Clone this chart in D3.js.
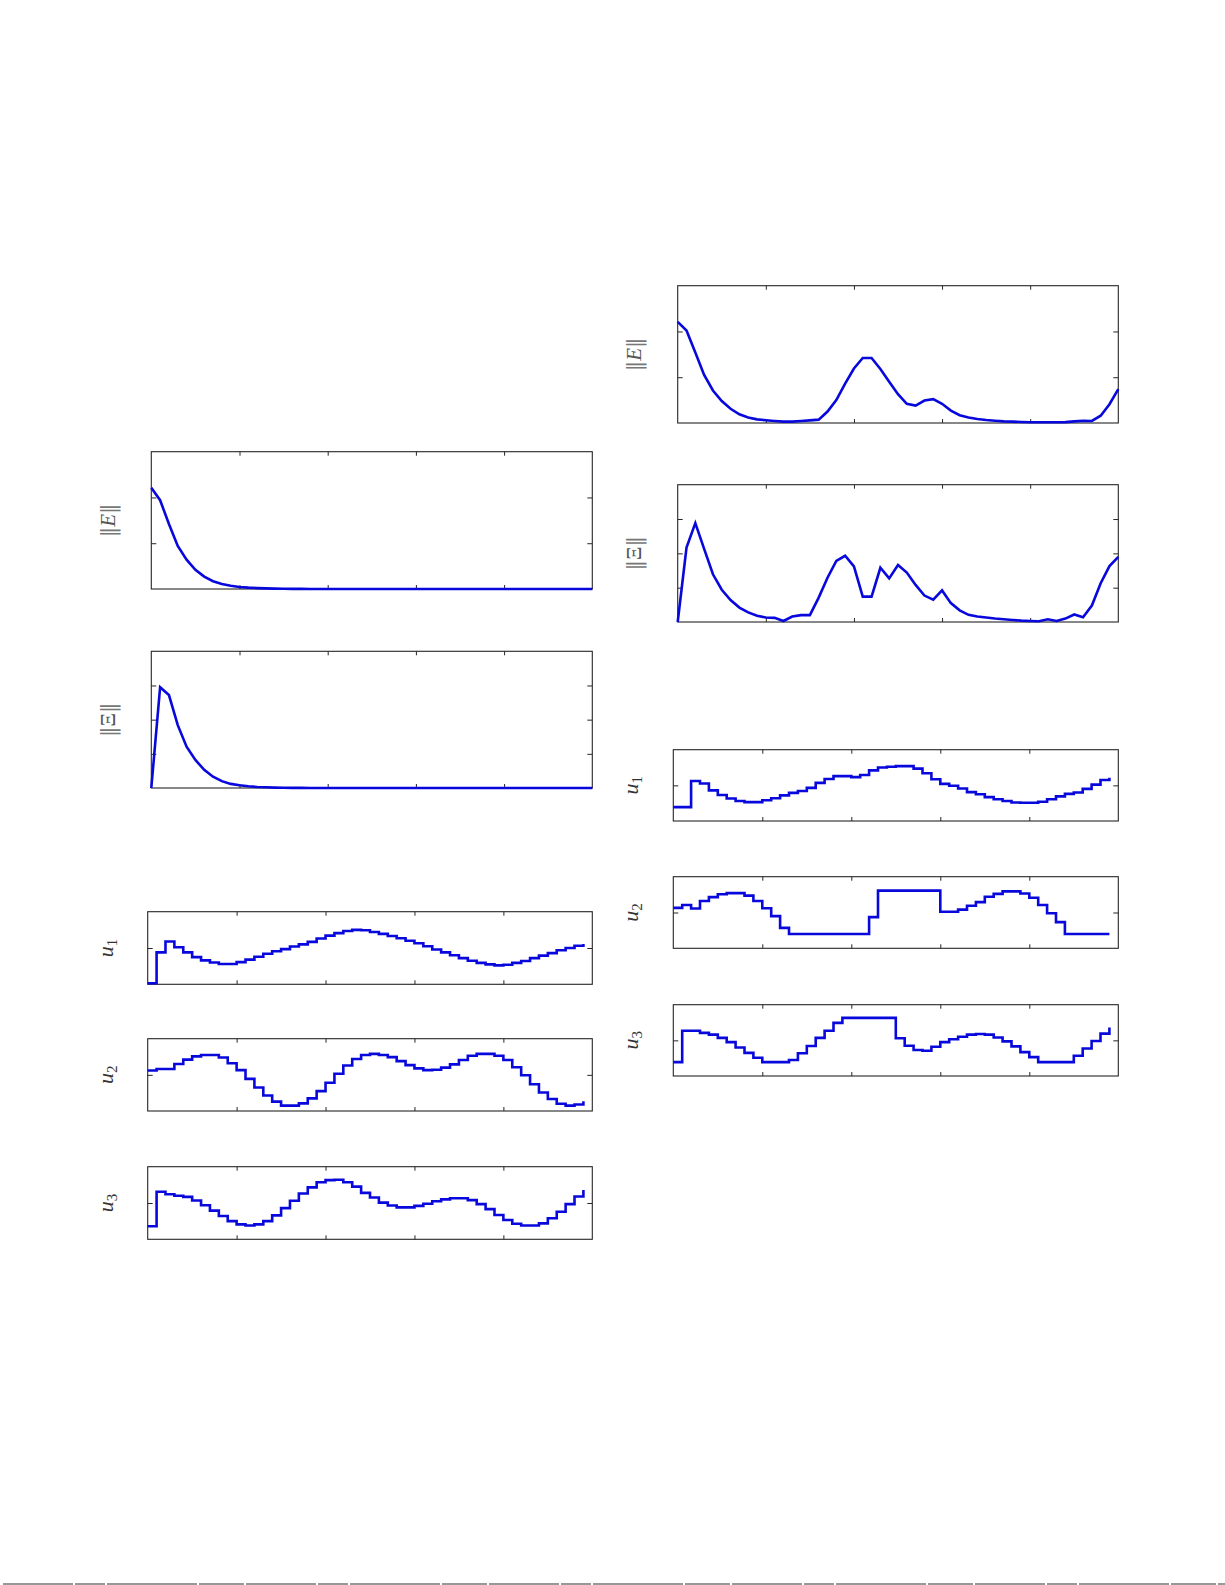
<!DOCTYPE html>
<html><head><meta charset="utf-8">
<script src="https://cdn.jsdelivr.net/npm/d3@7"></script>
<style>html,body{margin:0;padding:0;background:#fff;}svg{display:block;}</style>
</head><body>
<script>
// ---- data ----
const xTicks = [10, 20, 30, 40];
const eTicks = [1, 2];
const xiTicks = [1, 2, 3];
const uTicks = [0];

const leftE = [2.21,1.94,1.42,0.94,0.64,0.42,0.27,0.17,0.11,0.07,
  0.045,0.03,0.02,0.013,0.008,0.005,0.003,0.002,0.001,0,
  0,0,0,0,0,0,0,0,0,0, 0,0,0,0,0,0,0,0,0,0, 0,0,0,0,0,0,0,0,0,0, 0];
const leftXi = [0,2.95,2.72,1.84,1.21,0.82,0.53,0.33,0.20,0.12,
  0.08,0.05,0.03,0.02,0.012,0.008,0.005,0.003,0.002,0.001,
  0,0,0,0,0,0,0,0,0,0, 0,0,0,0,0,0,0,0,0,0, 0,0,0,0,0,0,0,0,0,0, 0];
const leftU1 = [-0.97,-0.12,0.18,0.02,-0.12,-0.25,-0.34,-0.40,-0.44,-0.44,
  -0.39,-0.32,-0.24,-0.16,-0.09,-0.03,0.04,0.10,0.17,0.26,
  0.34,0.41,0.47,0.50,0.49,0.44,0.39,0.33,0.27,0.20,
  0.13,0.05,-0.04,-0.12,-0.20,-0.28,-0.35,-0.41,-0.45,-0.48,
  -0.46,-0.41,-0.36,-0.28,-0.21,-0.14,-0.06,0.00,0.06,0.11];
const leftU2 = [0.12,0.16,0.16,0.30,0.42,0.51,0.55,0.55,0.48,0.32,
  0.13,-0.11,-0.35,-0.57,-0.74,-0.85,-0.85,-0.79,-0.65,-0.45,
  -0.22,0.03,0.26,0.44,0.55,0.58,0.55,0.49,0.38,0.27,
  0.18,0.13,0.14,0.20,0.29,0.41,0.53,0.58,0.58,0.53,
  0.41,0.21,-0.01,-0.26,-0.49,-0.67,-0.80,-0.85,-0.82,-0.73];
const leftU3 = [-0.64,0.31,0.24,0.20,0.17,0.07,-0.06,-0.21,-0.36,-0.50,
  -0.59,-0.62,-0.59,-0.50,-0.34,-0.14,0.06,0.26,0.43,0.57,
  0.63,0.64,0.57,0.45,0.28,0.15,0.01,-0.07,-0.12,-0.12,
  -0.08,-0.02,0.05,0.10,0.13,0.13,0.08,-0.03,-0.17,-0.33,
  -0.47,-0.57,-0.62,-0.62,-0.56,-0.42,-0.24,-0.03,0.18,0.36];

const rightE = [2.21,2.02,1.54,1.05,0.71,0.48,0.31,0.19,0.12,0.08,
  0.06,0.044,0.03,0.03,0.044,0.058,0.073,0.25,0.50,0.86,
  1.19,1.42,1.42,1.18,0.90,0.63,0.42,0.38,0.49,0.52,
  0.42,0.27,0.17,0.12,0.087,0.066,0.05,0.036,0.03,0.022,
  0.015,0.015,0.015,0.015,0.02,0.036,0.05,0.044,0.16,0.41,
  0.74];
const rightXi = [0,2.17,2.88,2.13,1.39,0.94,0.64,0.42,0.28,0.18,
  0.13,0.12,0.03,0.16,0.20,0.20,0.71,1.29,1.78,1.93,
  1.62,0.74,0.74,1.58,1.27,1.66,1.44,1.08,0.77,0.65,
  0.92,0.55,0.34,0.21,0.16,0.13,0.10,0.08,0.06,0.04,
  0.03,0.02,0.08,0.03,0.10,0.22,0.14,0.48,1.13,1.63,
  1.90];
const rightU1 = [-0.61,-0.61,0.12,0.05,-0.14,-0.27,-0.37,-0.44,-0.47,-0.47,
  -0.42,-0.36,-0.28,-0.21,-0.16,-0.07,0.07,0.18,0.26,0.26,
  0.23,0.29,0.42,0.50,0.52,0.54,0.54,0.47,0.34,0.17,
  0.04,-0.01,-0.09,-0.19,-0.25,-0.33,-0.39,-0.44,-0.48,-0.49,
  -0.49,-0.46,-0.39,-0.31,-0.24,-0.20,-0.10,0.02,0.15,0.21];
const rightU2 = [0.13,0.21,0.11,0.32,0.43,0.51,0.54,0.54,0.47,0.32,
  0.12,-0.10,-0.43,-0.60,-0.60,-0.60,-0.60,-0.60,-0.60,-0.60,
  -0.60,-0.60,-0.13,0.61,0.61,0.61,0.61,0.61,0.61,0.61,
  0.02,0.02,0.08,0.19,0.29,0.44,0.52,0.59,0.59,0.53,
  0.41,0.21,-0.02,-0.27,-0.60,-0.60,-0.60,-0.60,-0.60,-0.60];
const rightU3 = [-0.61,0.27,0.27,0.21,0.16,0.07,-0.05,-0.20,-0.35,-0.49,
  -0.61,-0.61,-0.61,-0.55,-0.36,-0.16,0.07,0.27,0.49,0.63,
  0.63,0.63,0.63,0.63,0.63,0.06,-0.15,-0.27,-0.29,-0.18,
  -0.05,0.03,0.10,0.16,0.18,0.16,0.08,-0.03,-0.17,-0.33,
  -0.47,-0.61,-0.61,-0.61,-0.61,-0.43,-0.23,-0.02,0.19,0.36];

// ---- drawing ----
const W = 1225, H = 1585;
const BLUE = "#0808dc", FRAME = "#262626", LABEL = "#555";
const svg = d3.select("body").append("svg").attr("width", W).attr("height", H);
svg.append("rect").attr("width", W).attr("height", H).attr("fill", "#fff");

function panel(o) {
  const g = svg.append("g");
  const x = d3.scaleLinear().domain([0, 50]).range([o.x0, o.x1]);
  const y = d3.scaleLinear().domain(o.yDomain).range([o.y1, o.y0]);
  const tick = (sel) => { sel.select(".domain").remove(); sel.selectAll("text").remove();
    sel.selectAll("line").attr("stroke", FRAME).attr("stroke-width", 1); };
  g.append("g").attr("transform", `translate(0,${o.y1})`)
    .call(d3.axisBottom(x).tickValues(xTicks).tickSizeInner(-4).tickSizeOuter(0)).call(tick);
  g.append("g").attr("transform", `translate(0,${o.y0})`)
    .call(d3.axisTop(x).tickValues(xTicks).tickSizeInner(-4).tickSizeOuter(0)).call(tick);
  g.append("g").attr("transform", `translate(${o.x0},0)`)
    .call(d3.axisLeft(y).tickValues(o.yTicks).tickSizeInner(-5).tickSizeOuter(0)).call(tick);
  g.append("g").attr("transform", `translate(${o.x1},0)`)
    .call(d3.axisRight(y).tickValues(o.yTicks).tickSizeInner(-5).tickSizeOuter(0)).call(tick);
  g.append("rect").attr("x", o.x0).attr("y", o.y0)
    .attr("width", o.x1 - o.x0).attr("height", o.y1 - o.y0)
    .attr("fill", "none").attr("stroke", FRAME).attr("stroke-width", 1.1);
  const line = d3.line().x((d, i) => x(i)).y(d => y(d))
    .curve(o.stairs ? d3.curveStepAfter : d3.curveLinear);
  g.append("path").datum(o.data).attr("d", line)
    .attr("fill", "none").attr("stroke", BLUE).attr("stroke-width", 2.6)
    .attr("stroke-linejoin", "miter").attr("stroke-linecap", "butt");
  // label
  const t = g.append("text")
    .attr("transform", `translate(${o.lx},${(o.y0 + o.y1) / 2}) rotate(-90)`)
    .attr("text-anchor", "middle").attr("dy", "0.35em")
    .attr("font-family", "'Liberation Serif','DejaVu Serif',serif")
    .attr("fill", LABEL);
  if (o.label === "E" || o.label === "Xi") {
    t.attr("font-size", 21);
    t.append("tspan").attr("font-family", "'DejaVu Serif',serif").attr("fill", "#777").text("\u2016");
    t.append("tspan").attr("font-style", o.label === "E" ? "italic" : "normal")
      .text(o.label === "E" ? "E" : "\u039E");
    t.append("tspan").attr("font-family", "'DejaVu Serif',serif").attr("fill", "#777").text("\u2016");
  } else {
    t.attr("font-size", 22).attr("fill", "#333");
    t.append("tspan").attr("font-style", "italic").text("u");
    t.append("tspan").attr("font-size", 15).attr("dy", "0.3em").text(o.label);
  }
}

// left column
panel({x0: 151.3, x1: 592.3, y0: 451.7, y1: 589, yDomain: [0, 3], yTicks: eTicks, data: leftE, label: "E", lx: 108});
panel({x0: 151.3, x1: 592.3, y0: 651.3, y1: 788, yDomain: [0, 4], yTicks: xiTicks, data: leftXi, label: "Xi", lx: 108});
panel({x0: 147.7, x1: 592.3, y0: 911.7, y1: 984.3, yDomain: [-1, 1], yTicks: uTicks, data: leftU1, stairs: true, label: "1", lx: 105});
panel({x0: 147.7, x1: 592.3, y0: 1038.7, y1: 1111, yDomain: [-1, 1], yTicks: uTicks, data: leftU2, stairs: true, label: "2", lx: 105});
panel({x0: 147.7, x1: 592.3, y0: 1166.7, y1: 1239.3, yDomain: [-1, 1], yTicks: uTicks, data: leftU3, stairs: true, label: "3", lx: 105});
// right column
panel({x0: 677.7, x1: 1118.3, y0: 285.7, y1: 423, yDomain: [0, 3], yTicks: eTicks, data: rightE, label: "E", lx: 634});
panel({x0: 677.7, x1: 1118.3, y0: 484.7, y1: 622, yDomain: [0, 4], yTicks: xiTicks, data: rightXi, label: "Xi", lx: 634});
panel({x0: 673.3, x1: 1118.3, y0: 749.7, y1: 821, yDomain: [-1, 1], yTicks: uTicks, data: rightU1, stairs: true, label: "1", lx: 630});
panel({x0: 673.3, x1: 1118.3, y0: 876.7, y1: 948.3, yDomain: [-1, 1], yTicks: uTicks, data: rightU2, stairs: true, label: "2", lx: 630});
panel({x0: 673.3, x1: 1118.3, y0: 1004.7, y1: 1076, yDomain: [-1, 1], yTicks: uTicks, data: rightU3, stairs: true, label: "3", lx: 630});

// page-edge dashed rule at the bottom
svg.append("line").attr("x1", 3).attr("x2", W).attr("y1", 1584).attr("y2", 1584)
  .attr("stroke", "#333").attr("stroke-width", 1.2).attr("stroke-dasharray", "70,2,30,2,90,2,45,2");
</script>
</body></html>
